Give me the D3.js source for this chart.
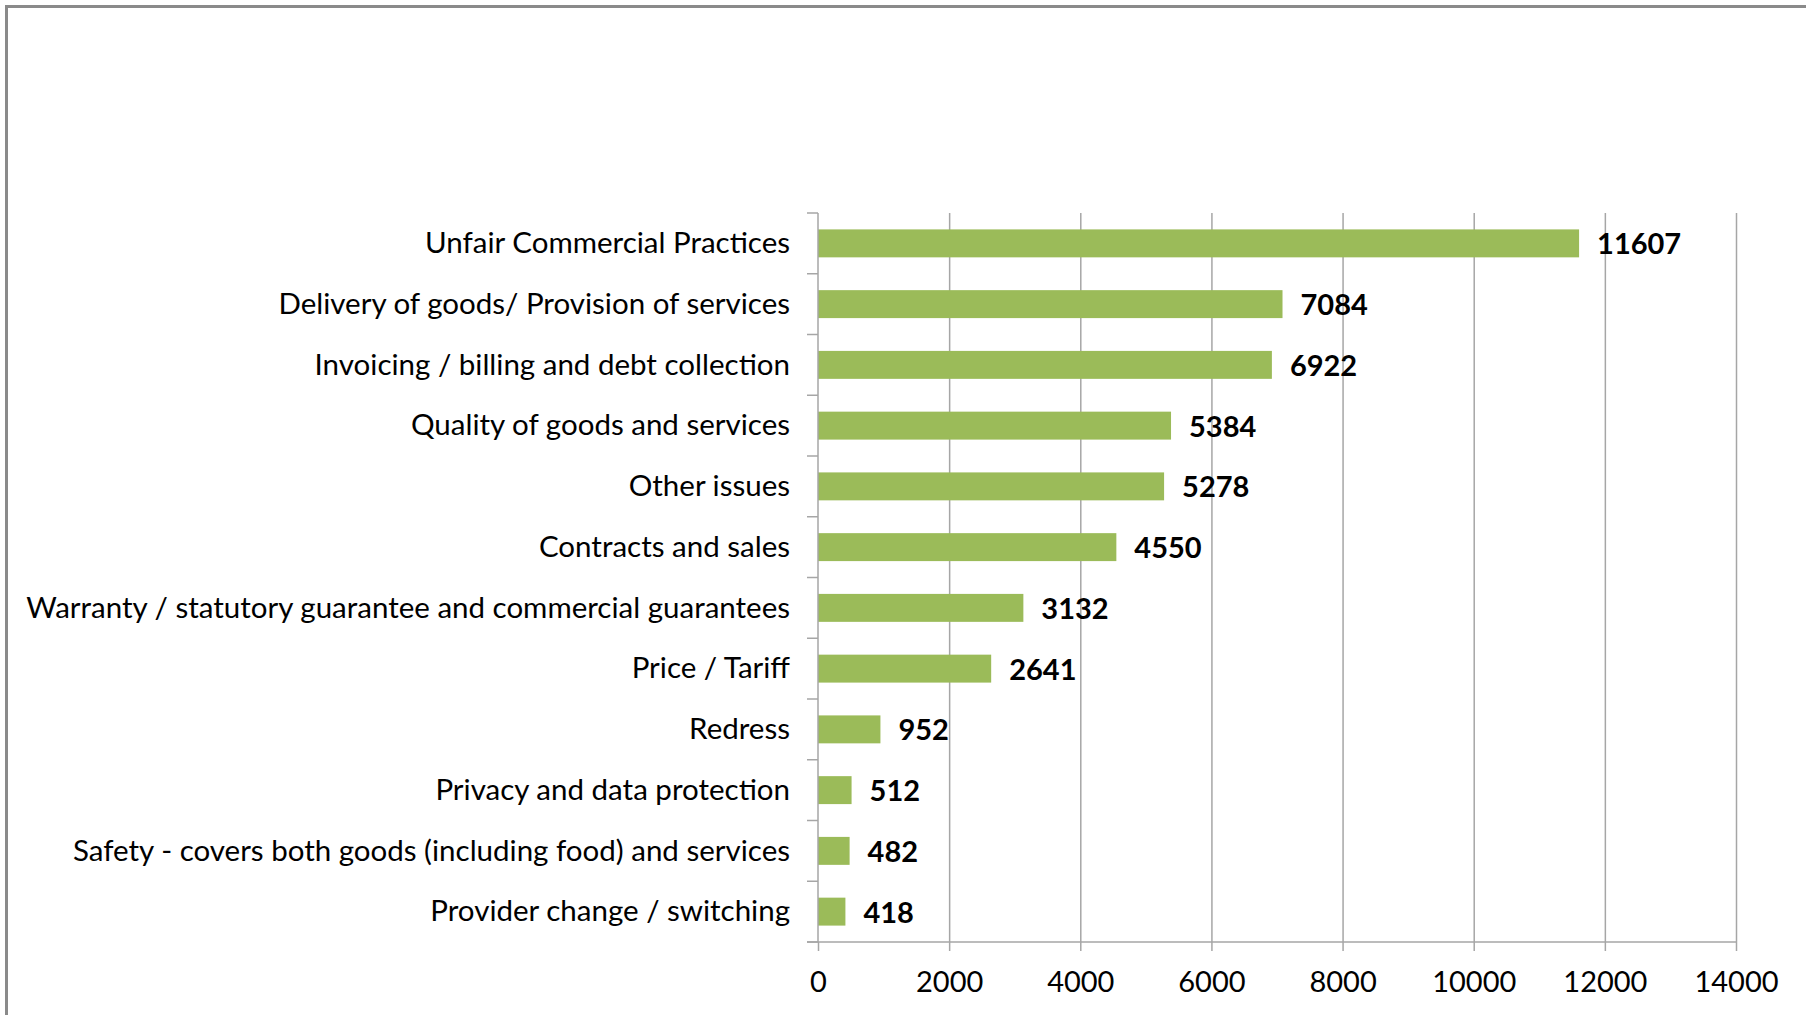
<!DOCTYPE html>
<html>
<head>
<meta charset="utf-8">
<script src="https://cdn.jsdelivr.net/npm/d3@7"></script>
<style>
  body { margin: 0; background: #fff; overflow: hidden; }
  svg { display: block; }
  text { font-family: Lato, "Open Sans", sans-serif; fill: #000; }
</style>
</head>
<body>
<svg></svg>
<script>
const w = 1806
const h = 1015

// data
const categories = [
  'Unfair Commercial Practices',
  'Delivery of goods/ Provision of services',
  'Invoicing / billing and debt collection',
  'Quality of goods and services',
  'Other issues',
  'Contracts and sales',
  'Warranty / statutory guarantee and commercial guarantees',
  'Price / Tariff',
  'Redress',
  'Privacy and data protection',
  'Safety - covers both goods (including food) and services',
  'Provider change / switching'
]
const values = [11607, 7084, 6922, 5384, 5278, 4550, 3132, 2641, 952, 512, 482, 418]
const xTicks = [0, 2000, 4000, 6000, 8000, 10000, 12000, 14000]

const data = categories.map((c, i) => ({ cat: c, val: values[i] }))

const svg = d3.select('svg')
  .attr('width', w)
  .attr('height', h)

// frame (only top/left edges fall inside the view)
svg.append('path')
  .attr('d', `M6.5,${h}V6.5H${w}`)
  .attr('fill', 'none')
  .attr('stroke', '#8a8a8a')
  .attr('stroke-width', 3)

const margin = { top: 213, right: 70, bottom: 73, left: 818 }
const innerWidth = w - margin.left - margin.right
const innerHeight = h - margin.top - margin.bottom

const g = svg.append('g')
  .attr('transform', `translate(${margin.left}, ${margin.top})`)

const xScale = d3.scaleLinear()
  .domain([0, 14000])
  .range([0, innerWidth])

const yScale = d3.scaleBand()
  .domain(categories)
  .range([0, innerHeight])
  .paddingInner(0.54)
  .paddingOuter(0.27)

const gridColor = '#a6a6a6'

// vertical gridlines
const grid = g.append('g')
  .call(d3.axisBottom(xScale).tickValues(xTicks.slice(1)).tickSize(innerHeight).tickFormat(''))
grid.select('.domain').remove()
grid.selectAll('line').attr('stroke', gridColor).attr('stroke-width', 1.5)

// bars
g.selectAll('rect.bar').data(data)
  .enter().append('rect')
  .attr('class', 'bar')
  .attr('x', 0)
  .attr('y', d => yScale(d.cat))
  .attr('width', d => xScale(d.val))
  .attr('height', yScale.bandwidth())
  .attr('fill', '#9bbb59')

// x axis
const xAxisG = g.append('g')
  .attr('transform', `translate(0, ${innerHeight})`)
  .call(d3.axisBottom(xScale).tickValues(xTicks).tickSize(9).tickSizeOuter(0).tickPadding(20).tickFormat(d3.format('d')))
xAxisG.select('.domain').attr('stroke', gridColor).attr('stroke-width', 1.5)
  .attr('d', `M-11,0H${innerWidth}`)
xAxisG.selectAll('line').attr('stroke', gridColor).attr('stroke-width', 1.5)
xAxisG.selectAll('text')
  .attr('font-size', 29)
  .attr('font-family', 'Lato, sans-serif')
  .attr('fill', '#000')

// y axis line + boundary ticks
g.append('line')
  .attr('x1', 0).attr('x2', 0)
  .attr('y1', 0).attr('y2', innerHeight)
  .attr('stroke', gridColor).attr('stroke-width', 1.5)

const step = yScale.step()
g.selectAll('line.ytick').data(d3.range(categories.length + 1))
  .enter().append('line')
  .attr('class', 'ytick')
  .attr('x1', -11).attr('x2', 0)
  .attr('y1', i => i * step).attr('y2', i => i * step)
  .attr('stroke', gridColor).attr('stroke-width', 1.5)

// category labels
g.selectAll('text.cat').data(data)
  .enter().append('text')
  .attr('class', 'cat')
  .attr('x', -28)
  .attr('y', d => yScale(d.cat) + yScale.bandwidth() / 2)
  .attr('dy', '0.33em')
  .attr('text-anchor', 'end')
  .attr('font-size', 29.5)
  .text(d => d.cat)

// value labels
g.selectAll('text.val').data(data)
  .enter().append('text')
  .attr('class', 'val')
  .attr('x', d => xScale(d.val) + 18)
  .attr('y', d => yScale(d.cat) + yScale.bandwidth() / 2)
  .attr('dy', '0.38em')
  .attr('font-size', 29)
  .attr('font-weight', 'bold')
  .text(d => d.val)
</script>
</body>
</html>
